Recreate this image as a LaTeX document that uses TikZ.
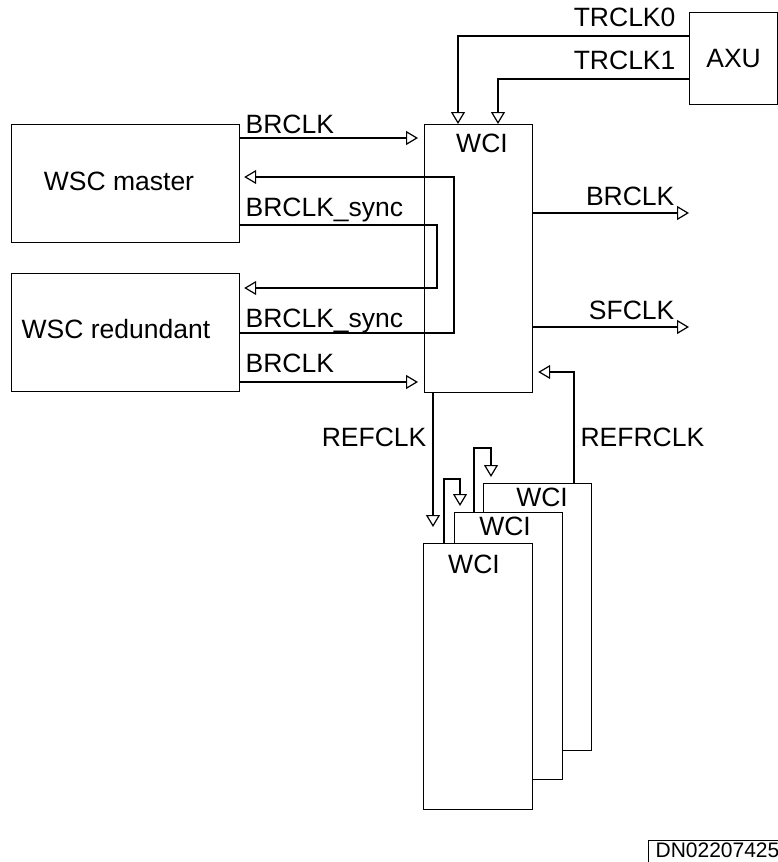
\documentclass[tikz,border=0pt]{standalone}
\usepackage{fontspec}
\setmainfont{Liberation Sans}
\usetikzlibrary{arrows.meta}
\begin{document}
\begin{tikzpicture}[x=1pt,y=-1pt, line width=1.2pt,
  box/.style={draw, fill=white, inner sep=0pt, anchor=north west},
  lbl/.style={font=\fontsize{26.5}{30}\selectfont, inner sep=0pt},
  arr/.style={-{Triangle[open,length=12pt,width=14pt]}},
]
\useasboundingbox (0,0) rectangle (778,862);
% boxes
\node[box, minimum width=88pt, minimum height=92pt] (axu) at (689,12) {};
\node[box, minimum width=108pt, minimum height=268pt] (wci) at (424,124) {};
\node[box, minimum width=228pt, minimum height=118pt] (wscm) at (11,124) {};
\node[box, minimum width=228pt, minimum height=118pt] (wscr) at (11,273) {};
% stack
\node[box, minimum width=108pt, minimum height=267pt] (w3) at (483,483) {};
\node[box, minimum width=108pt, minimum height=267pt] (w2) at (454,512) {};
\node[box, minimum width=109pt, minimum height=266pt] (w1) at (423,543) {};
% texts in boxes
\node[lbl] at (axu.center) {AXU};
\node[lbl, anchor=base] (twci) at (482,152) {WCI};
\node[lbl, anchor=base] (twscm) at (119,190) {WSC master};
\node[lbl, anchor=base] (twscr) at (116,338) {WSC redundant};
\node[lbl, anchor=base] (tw3) at (542,506) {WCI};
\node[lbl, anchor=base] (tw2) at (505,535) {WCI};
\node[lbl, anchor=base] (tw1) at (474,573) {WCI};
% connector labels
\node[lbl, anchor=base east] (ltr0) at (676,27) {TRCLK0};
\node[lbl, anchor=base east] (ltr1) at (676,69) {TRCLK1};
\node[lbl, anchor=base west] (lbr1) at (245,133) {BRCLK};
\node[lbl, anchor=base west] (ls1) at (245,216) {BRCLK\_sync};
\node[lbl, anchor=base west] (ls2) at (245,327) {BRCLK\_sync};
\node[lbl, anchor=base west] (lbr2) at (245,372) {BRCLK};
\node[lbl, anchor=base east] (lbro) at (675,205) {BRCLK};
\node[lbl, anchor=base east] (lsf) at (675,319) {SFCLK};
\node[lbl, anchor=base east] (lref) at (427,446) {REFCLK};
\node[lbl, anchor=base west] (lrefr) at (580,446) {REFRCLK};
% free ends
\coordinate (obr) at (689,213);
\coordinate (osf) at (689,327);
% connectors
\draw[arr] (axu.west |- 0,36) -| (wci.north -| 458,0);
\draw[arr] (axu.west |- 0,79) -| (wci.north -| 498,0);
\draw[arr, shorten >=6pt] (wscm.east |- 0,138) -- (wci.west |- 0,138);
\draw[arr, shorten >=6pt] (wscr.east |- 0,382) -- (wci.west |- 0,382);
\draw[arr, shorten >=4pt] (wscr.east |- 0,333) -| (454,177) -- (wscm.east |- 0,177);
\draw[arr, shorten >=4pt] (wscm.east |- 0,225) -| (437,288) -- (wscr.east |- 0,288);
\draw[arr] (wci.east |- 0,213) -- (obr);
\draw[arr] (wci.east |- 0,327) -- (osf);
\draw[arr, shorten >=16pt] (wci.south -| 433,0) -- (w1.north -| 433,0);
\draw[arr, shorten >=5pt] (w3.north -| 574,0) |- (wci.east |- 0,372);
\draw[arr, shorten >=6pt] (w2.north -| 474,0) |- (491,448) -- (w3.north -| 491,0);
\draw[arr, shorten >=6pt] (w1.north -| 444,0) |- (460,479) -- (w2.north -| 460,0);
% stamp
\node[font=\fontsize{21}{24}\selectfont, inner sep=0pt, anchor=base west] (dn) at (655,857) {DN02207425};
\draw[line width=1pt] (648,862) -- (648,840) -- (778,840);
\end{tikzpicture}
\end{document}
